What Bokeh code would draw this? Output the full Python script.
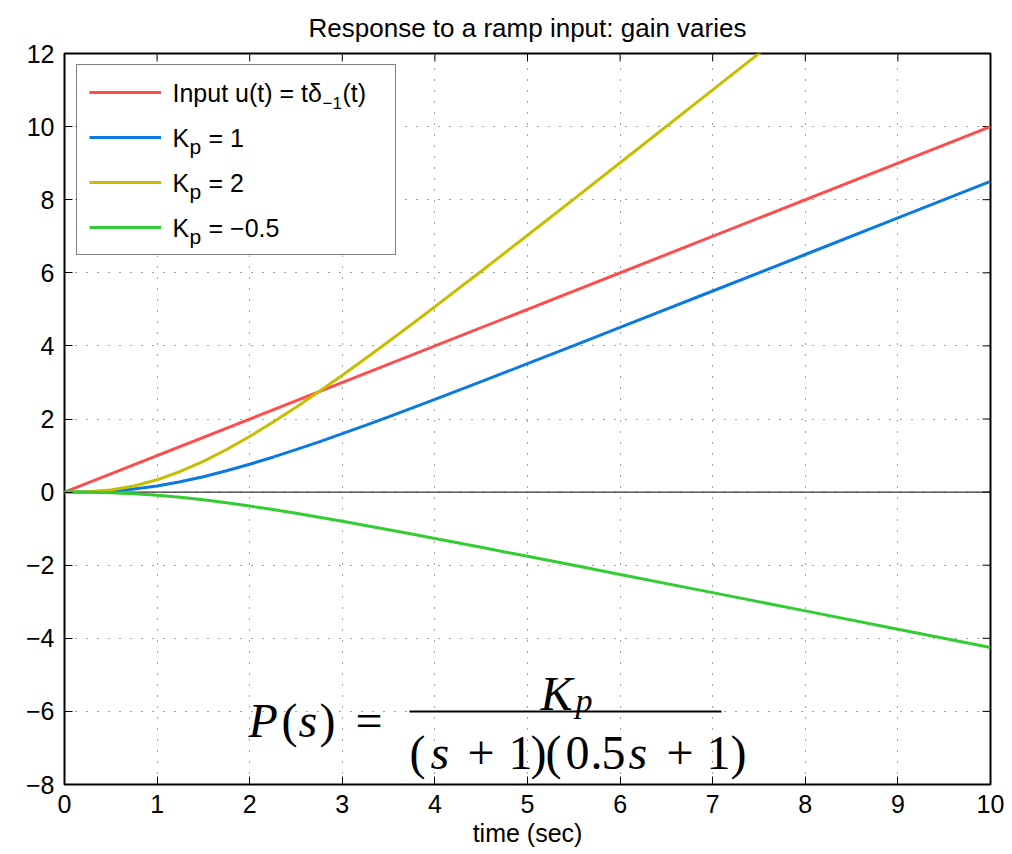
from bokeh.plotting import figure
from bokeh.models import (Range1d, FixedTicker, Span, Legend, LegendItem,
                          Label, CustomJSTickFormatter, BoxAnnotation)
from bokeh.embed import file_html
from bokeh.resources import INLINE

# ---- data ----
t = [0, 0.25, 0.5, 0.75, 1, 1.25, 1.5, 1.75, 2, 2.25, 2.5, 2.75, 3, 3.25, 3.5, 3.75, 4, 4.5,
     5, 5.5, 6, 7, 8, 9, 10]
t_input = [0, 10]
u_input = [0, 10]
y_kp1 = [0, 0.004, 0.029, 0.083, 0.168, 0.282, 0.421, 0.583, 0.762, 0.955, 1.161, 1.376,
         1.598, 1.827, 2.060, 2.297, 2.536, 3.022, 3.514, 4.008, 4.505, 5.502, 6.501, 7.500, 8.500]
y_kp2 = [0, 0.009, 0.058, 0.166, 0.336, 0.564, 0.843, 1.165, 1.523, 1.910, 2.322, 2.752,
         3.197, 3.654, 4.120, 4.593, 5.073, 6.044, 7.027, 8.016, 9.010, 11.004, 13.001, 15.000, 17.000]
y_kpm05 = [0, -0.002, -0.015, -0.042, -0.084, -0.141, -0.211, -0.291, -0.381, -0.478, -0.580,
           -0.688, -0.799, -0.913, -1.030, -1.148, -1.268, -1.511, -1.757, -2.004, -2.253,
           -2.751, -3.250, -3.750, -4.250]
x_ticks = [0, 1, 2, 3, 4, 5, 6, 7, 8, 9, 10]
y_ticks = [-8, -6, -4, -2, 0, 2, 4, 6, 8, 10, 12]
title_text = "Response to a ramp input: gain varies"
legend_main = ["Input u(t) = tδ", "K", "K", "K"]
legend_sub = ["\u22121", "p", "p", "p"]
legend_rest = ["(t)", "= 1", "= 2", "= \u22120.5"]
colors = ["#ff4d4d", "#0a7ae0", "#c8be00", "#33cc33"]

SANS = "Liberation Sans"
SERIF = "Liberation Serif"

p = figure(width=1012, height=854, x_range=Range1d(0, 10), y_range=Range1d(-8, 12),
           output_backend="svg", toolbar_location=None,
           min_border_left=64, min_border_right=22, min_border_top=53, min_border_bottom=70)
p.background_fill_color = "white"
p.border_fill_color = "white"
p.outline_line_color = "black"
p.outline_line_width = 2

p.title.text = title_text
p.title.align = "center"
p.title.text_font = SANS
p.title.text_font_size = "26px"
p.title.text_font_style = "normal"
p.title.text_color = "black"
p.title.standoff = 21

fmt = CustomJSTickFormatter(code="return tick < 0 ? '\u2212' + Math.abs(tick) : tick.toString();")

for ax, ticks in ((p.xaxis[0], x_ticks), (p.yaxis[0], y_ticks)):
    ax.ticker = FixedTicker(ticks=ticks)
    ax.formatter = fmt
    ax.major_tick_in = 8
    ax.major_tick_out = 0
    ax.minor_tick_line_color = None
    ax.axis_line_color = None
    ax.major_tick_line_color = "black"
    ax.major_label_text_font = SANS
    ax.major_label_text_font_size = "25px"
    ax.major_label_text_color = "black"
    ax.major_label_standoff = 10

p.xaxis.axis_label = "time (sec)"
p.xaxis.axis_label_text_font = SANS
p.xaxis.axis_label_text_font_size = "25px"
p.xaxis.axis_label_text_font_style = "normal"
p.xaxis.axis_label_text_color = "black"
p.xaxis.axis_label_standoff = 3

# inward tick marks on the top and right edges of the box
p.ray(x=x_ticks, y=[12] * len(x_ticks), length=8, length_units="screen",
      angle=-90, angle_units="deg", line_color="black", line_width=1)
p.ray(x=[10] * len(y_ticks), y=y_ticks, length=8, length_units="screen",
      angle=180, angle_units="deg", line_color="black", line_width=1)

p.grid.grid_line_color = "#444444"
p.grid.grid_line_dash = "1 10"
p.grid.grid_line_width = 1
p.xgrid.ticker = FixedTicker(ticks=x_ticks)
p.ygrid.ticker = FixedTicker(ticks=y_ticks)

zero = Span(location=0, dimension="width", line_color="black", line_width=1, level="underlay")
p.add_layout(zero)

r_in = p.line(t_input, u_input, line_color=colors[0], line_width=3)
r1 = p.line(t, y_kp1, line_color=colors[1], line_width=3)
r2 = p.line(t, y_kp2, line_color=colors[2], line_width=3)
r3 = p.line(t, y_kpm05, line_color=colors[3], line_width=3)

# ---- helpers: pixel position inside the frame -> data coordinates (for text placement) ----
FX0, FX1, FY0, FY1 = 64, 990, 53, 784
def dx(px):
    return (px - FX0) / (FX1 - FX0) * 10
def dy(py):
    return 12 - (py - FY0) / (FY1 - FY0) * 20

def put(txt, px, py, font, style, fs, align="left"):
    p.add_layout(Label(x=dx(px), y=dy(py), text=txt, text_font=font, text_font_style=style,
                       text_font_size=f"{fs}px", text_color="black", level="overlay",
                       text_align=align, text_baseline="alphabetic"))

# white legend background (under the legend's line samples and texts)
p.add_layout(BoxAnnotation(left=dx(77), right=dx(395), top=dy(66), bottom=dy(255),
                           fill_color="white", fill_alpha=1, line_color=None, level="annotation"))

# legend box and line samples (entry texts are drawn below, with sub-scripts)
legend = Legend(items=[LegendItem(label=" ", renderers=[r]) for r in [r_in, r1, r2, r3]],
                location=(12, 529), margin=0, padding=12, spacing=15,
                glyph_width=72, glyph_height=30, label_height=30, label_width=211, label_standoff=11,
                label_text_font=SANS, label_text_font_size="25px", label_text_color="black",
                border_line_color="black", border_line_width=1.5,
                background_fill_color="white", background_fill_alpha=0)
p.add_layout(legend)

# legend entry texts
row_y = [93, 138, 183, 228]
put(legend_main[0], 172, row_y[0] - 1, SANS, "normal", 25)
put(legend_sub[0], 322, row_y[0] + 9, SANS, "normal", 17)
put(legend_rest[0], 342, row_y[0] - 1, SANS, "normal", 25)
for i in range(1, 4):
    put(legend_main[i], 172, row_y[i] - 1, SANS, "normal", 25)
    put(legend_sub[i], 189, row_y[i] + 8, SANS, "normal", 21)
    put(legend_rest[i], 208, row_y[i] - 1, SANS, "normal", 25)

# ---- formula P(s) = Kp / ((s+1)(0.5s+1)) ----
pieces = [
    ("P", 248, 720, "italic", 48), ("(", 281, 720, "normal", 48), ("s", 298, 720, "italic", 48),
    (")", 319, 720, "normal", 48), ("=", 355, 720, "normal", 48),
    ("K", 540, 693, "italic", 48), ("p", 575, 700, "italic", 34),
    ("(", 409, 752, "normal", 48), ("s", 430, 752, "italic", 48), ("+", 467, 752, "normal", 48),
    ("1", 508, 752, "normal", 48), (")", 530, 752, "normal", 48), ("(", 545, 752, "normal", 48),
    ("0", 565, 752, "normal", 48), (".", 590, 752, "normal", 48), ("5", 601, 752, "normal", 48),
    ("s", 628, 752, "italic", 48), ("+", 666, 752, "normal", 48), ("1", 706, 752, "normal", 48),
    (")", 730, 752, "normal", 48),
]
for txt, px, py, style, fs in pieces:
    put(txt, px, py, SERIF, style, fs)

p.add_layout(BoxAnnotation(left=dx(409), right=dx(721), top=dy(710), bottom=dy(712),
                           fill_color="black", fill_alpha=1, line_color=None))

open("out.html", "w").write(file_html(p, INLINE))
